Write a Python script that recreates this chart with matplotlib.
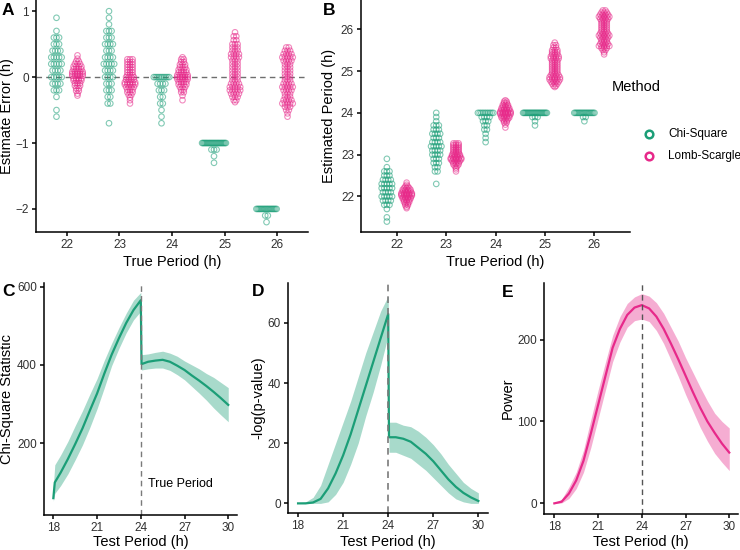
import numpy as np
import matplotlib
matplotlib.use("Agg")
import matplotlib.pyplot as plt
from matplotlib.lines import Line2D

plt.rcParams['font.family'] = ['Liberation Sans', 'DejaVu Sans']

GREEN = '#1B9E77'
PINK = '#E7298A'

# ---- panels A/B: period estimates (error = estimate - true period) ----
true_periods = [22, 23, 24, 25, 26]

chi_err_values = [
    [0.9, 0.7, 0.6, 0.5, 0.4, 0.3, 0.2, 0.1, 0.0, -0.1, -0.2, -0.3, -0.5, -0.6],
    [1.0, 0.9, 0.8, 0.7, 0.6, 0.5, 0.4, 0.3, 0.2, 0.1, 0.0, -0.1, -0.2, -0.3, -0.4, -0.7],
    [0.0, -0.1, -0.2, -0.3, -0.4, -0.5, -0.6, -0.7],
    [-1.0, -1.1, -1.2, -1.3],
    [-2.0, -2.1, -2.2],
]
chi_err_counts = [
    [1, 1, 3, 3, 4, 5, 5, 4, 5, 4, 3, 1, 1, 1],
    [1, 1, 1, 3, 3, 4, 3, 4, 5, 4, 4, 3, 3, 2, 2, 1],
    [10, 4, 3, 2, 2, 1, 1, 1],
    [24, 3, 1, 1],
    [18, 2, 1],
]

ls_err_values = [
    [0.33, 0.28, 0.24, 0.20, 0.16, 0.12, 0.08, 0.05, 0.02, -0.02, -0.05, -0.09,
     -0.13, -0.17, -0.21, -0.25, -0.28],
    [0.27, 0.23, 0.19, 0.15, 0.11, 0.07, 0.03, 0.0, -0.04, -0.08, -0.11, -0.15,
     -0.19, -0.23, -0.27, -0.31, -0.35, -0.40],
    [0.30, 0.27, 0.23, 0.19, 0.15, 0.11, 0.07, 0.03, 0.0, -0.03, -0.07, -0.11,
     -0.15, -0.19, -0.23, -0.28, -0.35],
    [0.68, 0.62, 0.56, 0.50, 0.45, 0.40, 0.35, 0.30, 0.25, 0.20, 0.15, 0.10, 0.05,
     0.0, -0.05, -0.10, -0.15, -0.20, -0.25, -0.30, -0.35, -0.38],
    [0.45, 0.40, 0.35, 0.30, 0.25, 0.20, 0.15, 0.10, 0.05, 0.0, -0.05, -0.10,
     -0.15, -0.20, -0.25, -0.30, -0.35, -0.40, -0.45, -0.50, -0.55, -0.60],
]
ls_err_counts = [
    [1, 1, 2, 3, 4, 4, 5, 5, 5, 4, 4, 3, 3, 2, 2, 1, 1],
    [3, 3, 3, 3, 3, 3, 3, 4, 4, 5, 5, 4, 3, 3, 2, 1, 1, 1],
    [1, 2, 2, 3, 3, 4, 4, 5, 5, 5, 4, 4, 3, 2, 2, 1, 1],
    [1, 2, 2, 3, 3, 3, 4, 4, 3, 3, 3, 3, 3, 3, 3, 4, 5, 5, 4, 3, 2, 1],
    [2, 3, 4, 5, 4, 3, 3, 3, 3, 3, 3, 4, 5, 4, 3, 3, 4, 5, 3, 2, 1, 1],
]

# ---- panels C/D: chi-square periodogram ----
test_period_cd = [18.0, 18.1, 18.5, 19.0, 19.5, 20.0, 20.5, 21.0, 21.5, 22.0, 22.5,
                  23.0, 23.5, 24.0, 24.05, 24.5, 25.0, 25.5, 26.0, 26.5, 27.0,
                  27.5, 28.0, 28.5, 29.0, 29.5, 30.0]
chisq_mean = [60, 100, 125, 160, 198, 238, 283, 327, 378, 426, 468, 507, 540, 565,
              402, 408, 411, 413, 408, 398, 387, 373, 360, 346, 331, 315, 298]
chisq_lo = [52, 72, 92, 122, 158, 196, 240, 288, 342, 398, 442, 482, 515, 537,
            387, 390, 392, 392, 386, 375, 362, 345, 328, 310, 290, 272, 255]
chisq_hi = [90, 145, 170, 205, 245, 283, 325, 365, 412, 455, 495, 532, 565, 585,
            426, 428, 432, 435, 430, 422, 410, 400, 390, 378, 368, 355, 342]

logp_mean = [0, 0, 0, 0.3, 1.5, 5, 10, 16, 23, 31, 39, 47, 55, 63,
             22, 22, 21.5, 20.5, 18.5, 16.5, 14, 11, 8, 5.5, 3.5, 2, 0.8]
logp_lo = [0, 0, 0, 0, 0, 0.5, 3, 7, 13, 20, 29, 37, 46, 56,
           17, 17, 16, 15, 13, 11, 8.5, 6, 3.5, 1.5, 0.5, 0, 0]
logp_hi = [0.3, 0.3, 0.5, 2, 6, 13, 20, 27, 34, 42, 50, 57, 64, 69,
           27, 27, 26, 25.5, 24, 22, 19.5, 16.5, 13, 10, 7, 5, 3.5]

# ---- panel E: Lomb-Scargle periodogram ----
test_period_e = [18.0, 18.5, 19.0, 19.5, 20.0, 20.5, 21.0, 21.5, 22.0, 22.5, 23.0,
                 23.5, 24.0, 24.5, 25.0, 25.5, 26.0, 26.5, 27.0, 27.5, 28.0,
                 28.5, 29.0, 29.5, 30.0]
power_mean = [0, 2, 12, 28, 52, 85, 120, 155, 190, 213, 230, 239, 242, 238, 228,
              213, 195, 176, 156, 136, 117, 100, 86, 73, 62]
power_lo = [0, 0.5, 6, 18, 38, 68, 103, 138, 173, 197, 215, 223, 225, 222, 211,
            195, 175, 155, 133, 113, 93, 76, 61, 50, 40]
power_hi = [1, 5, 20, 38, 65, 102, 138, 172, 205, 228, 244, 252, 256, 253, 245,
            232, 215, 198, 178, 160, 142, 125, 110, 100, 92]

W, H = 740, 550
fig = plt.figure(figsize=(7.4, 5.5), dpi=100)


def add_axes(left, top, right, bottom):
    return fig.add_axes([left / W, 1 - bottom / H, (right - left) / W, (bottom - top) / H])


def style(ax):
    for s in ['top', 'right']:
        ax.spines[s].set_visible(False)
    for s in ['left', 'bottom']:
        ax.spines[s].set_linewidth(1.1)
        ax.spines[s].set_color('black')
    ax.tick_params(axis='both', direction='out', length=3, width=1.1,
                   labelsize=8.5, labelcolor='#303030', pad=2)


def row_offsets(n, step=2.6):
    if n == 1:
        return np.zeros(1)
    width = step * (n - 1) if n <= 6 else step * 5 + 0.6 * (n - 6)
    return np.linspace(-width / 2, width / 2, n)


def draw_swarm(ax, shift_by_period, x0, x1, ax_w_px):
    px_per_unit = ax_w_px / (x1 - x0)
    for vals_all, cnts_all, dodge, col in [
            (chi_err_values, chi_err_counts, -0.2, GREEN),
            (ls_err_values, ls_err_counts, 0.2, PINK)]:
        for p, vals, cnts in zip(true_periods, vals_all, cnts_all):
            xs, ys = [], []
            for v, n in zip(vals, cnts):
                offs = row_offsets(n) / px_per_unit
                xs.extend(p + dodge + offs)
                ys.extend([v + (p if shift_by_period else 0)] * n)
            ax.scatter(xs, ys, s=16, facecolors='none', edgecolors=col,
                       linewidths=0.8, alpha=0.55, zorder=3)


# Panel A
axA = add_axes(36, 0, 308, 232)
style(axA)
axA.set_xlim(21.41, 26.59)
axA.set_ylim(-2.35, 1.17)
axA.axhline(0, color='#6e6e6e', lw=1, ls=(0, (4, 3)), zorder=1)
draw_swarm(axA, False, 21.41, 26.59, 272)
axA.set_xticks(true_periods)
axA.set_yticks([-2, -1, 0, 1])
axA.set_xlabel('True Period (h)', fontsize=10.5)
axA.set_ylabel('Estimate Error (h)', fontsize=10.5)
axA.xaxis.set_label_coords(0.5, (232 - 255) / 232)
axA.yaxis.set_label_coords((14 - 36) / 272, 0.5)

# Panel B
axB = add_axes(361, 0, 630, 232)
style(axB)
axB.set_xlim(21.276, 26.724)
axB.set_ylim(21.15, 26.7)
draw_swarm(axB, True, 21.276, 26.724, 269)
axB.set_xticks(true_periods)
axB.set_yticks([22, 23, 24, 25, 26])
axB.set_xlabel('True Period (h)', fontsize=10.5)
axB.set_ylabel('Estimated Period (h)', fontsize=10.5)
axB.xaxis.set_label_coords(0.5, (232 - 255) / 232)
axB.yaxis.set_label_coords((336 - 361) / 269, 0.5)

# Panel C
axC = add_axes(44, 283, 237, 515)
style(axC)
axC.fill_between(test_period_cd, chisq_lo, chisq_hi, color=GREEN, alpha=0.38, lw=0)
axC.plot(test_period_cd, chisq_mean, color=GREEN, lw=1.6)
axC.axvline(24, color='#7a7a7a', lw=1, ls=(0, (4, 3)))
axC.text(24.5, 97, 'True Period', fontsize=9, va='center', ha='left')
axC.set_xlim(17.36, 30.6)
axC.set_ylim(17, 609)
axC.set_xticks([18, 21, 24, 27, 30])
axC.set_yticks([200, 400, 600])
axC.set_xlabel('Test Period (h)', fontsize=10.5)
axC.set_ylabel('Chi-Square Statistic', fontsize=10.5)
axC.xaxis.set_label_coords(0.5, (515 - 535) / 232)
axC.yaxis.set_label_coords((14 - 44) / 193, 0.5)

# Panel D
axD = add_axes(288, 283, 488, 513)
style(axD)
axD.fill_between(test_period_cd, logp_lo, logp_hi, color=GREEN, alpha=0.38, lw=0)
axD.plot(test_period_cd, logp_mean, color=GREEN, lw=1.6)
axD.axvline(24, color='#7a7a7a', lw=1.2, ls=(0, (4, 3)))
axD.set_xlim(17.33, 30.64)
axD.set_ylim(-3.2, 73.3)
axD.set_xticks([18, 21, 24, 27, 30])
axD.set_yticks([0, 20, 40, 60])
axD.set_xlabel('Test Period (h)', fontsize=10.5)
axD.set_ylabel('-log(p-value)', fontsize=10.5)
axD.xaxis.set_label_coords(0.5, (513 - 535) / 230)
axD.yaxis.set_label_coords((265 - 288) / 200, 0.5)

# Panel E
axE = add_axes(544, 283, 738, 514)
style(axE)
axE.fill_between(test_period_e, power_lo, power_hi, color=PINK, alpha=0.38, lw=0)
axE.plot(test_period_e, power_mean, color=PINK, lw=1.6)
axE.axvline(24, color='#555555', lw=1, ls=(0, (4, 3)))
axE.set_xlim(17.29, 30.6)
axE.set_ylim(-13, 269)
axE.set_xticks([18, 21, 24, 27, 30])
axE.set_yticks([0, 100, 200])
axE.set_xlabel('Test Period (h)', fontsize=10.5)
axE.set_ylabel('Power', fontsize=10.5)
axE.xaxis.set_label_coords(0.5, (514 - 535) / 231)
axE.yaxis.set_label_coords((515 - 544) / 194, 0.5)

# panel letters
for lab, x, y in [('A', 2, 15), ('B', 323, 15), ('C', 2, 296), ('D', 252, 296), ('E', 502, 297)]:
    fig.text(x / W, 1 - y / H, lab, fontsize=12.5, fontweight='bold', ha='left', va='baseline')

# legend
fig.text(612 / W, 1 - 87 / H, 'Method', fontsize=10.5, ha='left', va='center')
for lab, col, y in [('Chi-Square', GREEN, 134), ('Lomb-Scargle', PINK, 156)]:
    fig.add_artist(Line2D([649 / W], [1 - y / H], transform=fig.transFigure, marker='o',
                          markersize=5.5, markerfacecolor='none', markeredgecolor=col,
                          markeredgewidth=1.8, linestyle='none'))
    fig.text(668 / W, 1 - y / H, lab, fontsize=8.5, ha='left', va='center')

fig.savefig('out.png', dpi=100)
